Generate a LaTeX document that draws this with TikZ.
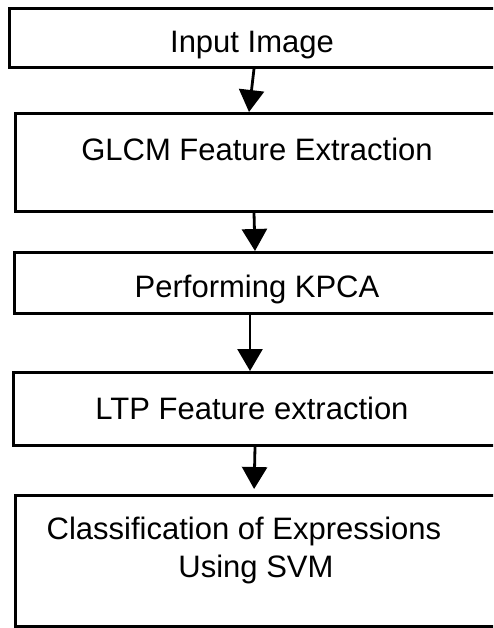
\documentclass[tikz,border=0pt]{standalone}
\usepackage{fontspec}
\setmainfont{Liberation Sans}
\usetikzlibrary{arrows.meta}

\begin{document}
\begin{tikzpicture}[
		x=1pt, y=-1pt,
		stage/.style={rectangle, draw, line width=2.8pt, anchor=north west, inner sep=0pt, minimum width=490pt},
		caption/.style={anchor=base, inner sep=0pt, font=\fontsize{31}{38}\selectfont},
		flow/.style={line width=2.8pt, -{Triangle[length=22pt, width=25pt]}}
		]
	\path[use as bounding box, clip] (0,0) rectangle (493,628);

	% Blocs
	\node[stage, minimum height=59pt] (IMG) at (8,7) {};
	\node[stage, minimum height=98pt] (GLCM) at (14,112) {};
	\node[stage, minimum height=61pt] (KPCA) at (13,251) {};
	\node[stage, minimum height=73pt] (LTP) at (12,371) {};
	\node[stage, minimum height=131pt] (SVM) at (14,494) {};

	% Textes
	\node[caption] (IMGt) at (252,53) {Input Image};
	\node[caption] (GLCMt) at (257,161) {GLCM Feature Extraction};
	\node[caption] (KPCAt) at (257,297) {Performing KPCA};
	\node[caption] (LTPt) at (252,419) {LTP Feature extraction};
	\node[caption] (SVMt) at (244,539) {Classification of Expressions};
	\node[caption] (SVMu) at (256,577) {Using SVM};

	% Fleches
	\draw[flow] (254,0 |- IMG.south) -- (249,0 |- GLCM.north);
	\draw[flow] (254,0 |- GLCM.south) -- (255,0 |- KPCA.north);
	\draw[flow] (250,0 |- KPCA.south) -- (250,0 |- LTP.north);
	\draw[flow, shorten >=5pt] (255,0 |- LTP.south) -- (254,0 |- SVM.north);
\end{tikzpicture}
\end{document}
